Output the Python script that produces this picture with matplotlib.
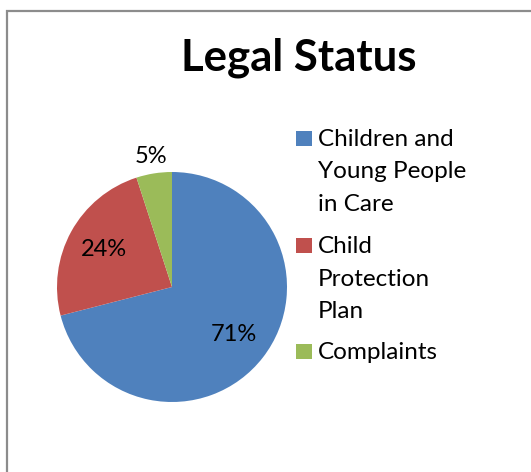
import matplotlib
matplotlib.use("Agg")
import matplotlib.pyplot as plt
from matplotlib.patches import Rectangle
import numpy as np

plt.rcParams['font.family'] = ['Lato', 'DejaVu Sans']

title = "Legal Status"
categories = ["Children and\nYoung People\nin Care", "Child\nProtection\nPlan", "Complaints"]
shares = [71, 24, 5]
colors = ["#4F81BD", "#C0504D", "#9BBB59"]
label_radius = [0.68, 0.68, 1.15]

W, H = 531, 472
fig = plt.figure(figsize=(W / 100, H / 100), dpi=100)
fig.patch.set_facecolor("white")

# chart frame (runs off the right and bottom edges)
fig.patches.append(Rectangle((7 / W, -0.05), 1.2, 1 - 11 / H + 0.05,
                             transform=fig.transFigure, fill=False,
                             edgecolor="#8c8c8c", linewidth=1.6))

cx, cy, r = 172, 287, 115
ax = fig.add_axes([(cx - r) / W, (H - cy - r) / H, 2 * r / W, 2 * r / H])
wedges, _ = ax.pie(shares, colors=colors, startangle=90, counterclock=False,
                   wedgeprops=dict(linewidth=0))
ax.set_xlim(-1, 1)
ax.set_ylim(-1, 1)
ax.axis("off")

for w, v, rr in zip(wedges, shares, label_radius):
    mid = np.deg2rad((w.theta1 + w.theta2) / 2)
    ax.text(rr * np.cos(mid), rr * np.sin(mid), f"{v}%", ha="center", va="center",
            fontsize=17, color="black", clip_on=False)

fig.text(298.5 / W, 1 - 70 / H, title, ha="center", va="baseline",
         fontsize=31.5, fontweight="bold")

# legend
first_baselines = [146, 253, 359]
line_step = 32.5
for label, col, yb in zip(categories, colors, first_baselines):
    fig.patches.append(Rectangle((296 / W, 1 - yb / H), 16 / W, 15 / H,
                                 transform=fig.transFigure, facecolor=col,
                                 edgecolor="none"))
    for i, line in enumerate(label.split("\n")):
        fig.text(318 / W, 1 - (yb + i * line_step) / H, line, ha="left",
                 va="baseline", fontsize=17.5)

fig.savefig("out.png", dpi=100)
